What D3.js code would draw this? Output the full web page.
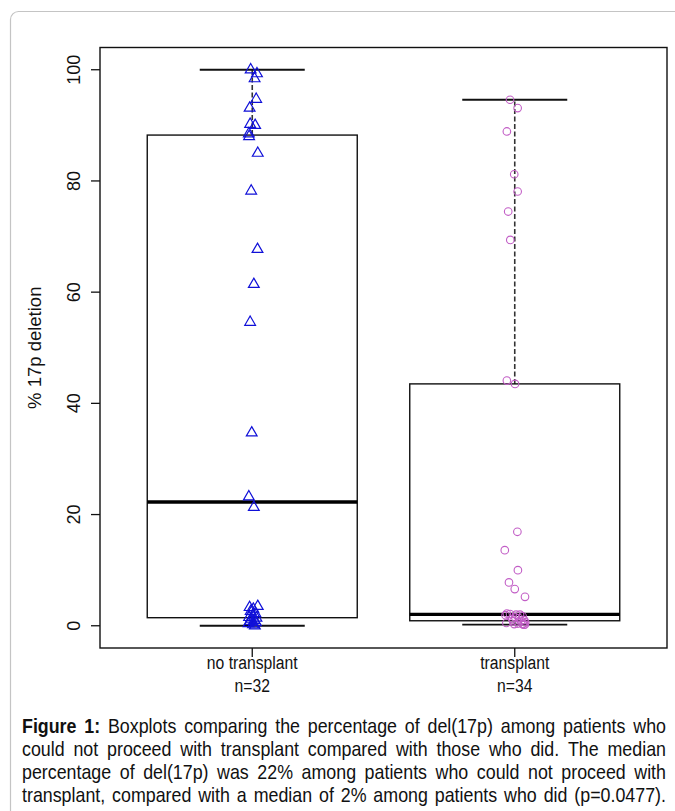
<!DOCTYPE html>
<html>
<head>
<meta charset="utf-8">
<script src="https://cdn.jsdelivr.net/npm/d3@7"></script>
<style>
  html, body { margin: 0; padding: 0; background: #fff; }
  svg { display: block; }
</style>
</head>
<body>
<div id="chart"></div>
<script>
// groupes
const groups = ["no transplant", "transplant"];
const groupN = ["n=32", "n=34"];

// % 17p deletion, sans greffe (32 patients)
const noTransplant = [100, 99.3, 98.4, 94.7, 93.1, 90.2, 90.0, 88.5, 88.0, 85.0,
  78.2, 67.7, 61.4, 54.6, 34.7, 23.2, 21.3,
  3.5, 3.3, 3.0, 2.6, 2.2, 1.8, 1.5, 1.4, 1.2, 1.0, 0.8, 0.6, 0.4, 0.2, 0.0];
// décalage (jitter) horizontal, en unités de catégorie
const noTransplantJitter = [-0.006, 0.018, 0.009, 0.015, -0.010, -0.008, 0.011, -0.013, -0.012, 0.021,
  -0.004, 0.020, 0.006, -0.008, -0.002, -0.013, 0.006,
  0.021, -0.010, 0.004, -0.006, 0.012, 0.002, -0.012, 0.016, -0.004, 0.008, -0.009, 0.014, -0.014, 0.003, 0.010];

// % 17p deletion, avec greffe (34 patients)
const transplant = [94.6, 93.1, 88.9, 81.2, 78.1, 74.5, 69.4, 44.1, 43.5,
  16.9, 13.6, 10.0, 7.8, 6.6, 5.2,
  2.2, 2.1, 2.0, 2.0, 1.9, 1.7, 1.5, 1.4, 1.2, 1.0, 0.9, 0.8, 0.6, 0.5, 0.4, 0.3, 0.3, 0.2, 0.2];
const transplantJitter = [-0.018, 0.011, -0.030, -0.002, 0.011, -0.025, -0.017, -0.030, 0.001,
  0.010, -0.038, 0.012, -0.022, 0.000, 0.039,
  -0.030, -0.018, 0.005, 0.020, -0.035, 0.030, 0.002, 0.016, -0.010, 0.036, 0.025, -0.005, 0.040, -0.032, 0.012, 0.030, -0.002, 0.034, 0.038];

const yTicks = [0, 20, 40, 60, 80, 100];

const captionLines = [
  "Figure 1: Boxplots comparing the percentage of del(17p) among patients who",
  "could not proceed with transplant compared with those who did.  The median",
  "percentage of del(17p) was 22% among patients who could not proceed with",
  "transplant, compared with a median of 2% among patients who did (p=0.0477)."
];

//---------------------------------------------------------------------------------------

// Création du canevas SVG

const width = 675;
const height = 811;
const plot = { left: 100, top: 47.5, right: 667, bottom: 648 };
const font = "'Liberation Sans', Arial, sans-serif";

const svg = d3.select("#chart")
  .append("svg")
  .attr("width", width)
  .attr("height", height)
  .attr("viewBox", [0, 0, width, height]);

// cadre arrondi gris autour de la figure
svg.append("rect")
  .attr("x", 10.5).attr("y", 11.5)
  .attr("width", 720).attr("height", 900)
  .attr("rx", 8)
  .attr("fill", "none")
  .attr("stroke", "#c4c4c4")
  .attr("stroke-width", 1.2);

//---------------------------------------------------------------------------------------

// Échelles (comme R : étendue + 4%)

const x = d3.scaleLinear()
  .domain([0.42, 2.58])
  .range([plot.left, plot.right]);

const y = d3.scaleLinear()
  .domain([-4, 104])
  .range([plot.bottom, plot.top]);

// statistiques boxplot (fivenum de R + moustaches 1.5 IQR)
function quantAt(sorted, pos) {
  const lo = Math.floor(pos), hi = Math.ceil(pos);
  return (sorted[lo - 1] + sorted[hi - 1]) / 2;
}
function boxStats(values) {
  const s = values.slice().sort(d3.ascending);
  const n = s.length;
  const n4 = Math.floor((n + 3) / 2) / 2;
  const q1 = quantAt(s, n4);
  const med = quantAt(s, (n + 1) / 2);
  const q3 = quantAt(s, n + 1 - n4);
  const iqr = q3 - q1;
  const lo = d3.min(s.filter(v => v >= q1 - 1.5 * iqr));
  const hi = d3.max(s.filter(v => v <= q3 + 1.5 * iqr));
  return { q1, med, q3, lo, hi };
}

const series = [
  { values: noTransplant, jitter: noTransplantJitter, shape: "triangle", color: "#1010d8" },
  { values: transplant, jitter: transplantJitter, shape: "circle", color: "#c25ec6" }
];

const boxW = 0.4;   // demi-largeur de boîte
const capW = 0.2;   // demi-largeur des moustaches

const gBox = svg.append("g");

series.forEach((s, i) => {
  const c = i + 1;
  const st = boxStats(s.values);

  // moustaches pointillées
  [[st.lo, st.q1], [st.q3, st.hi]].forEach(([a, b]) => {
    gBox.append("line")
      .attr("x1", x(c)).attr("x2", x(c))
      .attr("y1", y(a)).attr("y2", y(b))
      .attr("stroke", "#333")
      .attr("stroke-width", 1.6)
      .attr("stroke-dasharray", "5,2.5");
  });

  // extrémités des moustaches
  [st.lo, st.hi].forEach(v => {
    gBox.append("line")
      .attr("x1", x(c - capW)).attr("x2", x(c + capW))
      .attr("y1", y(v)).attr("y2", y(v))
      .attr("stroke", "#111")
      .attr("stroke-width", 1.8);
  });

  // boîte
  gBox.append("rect")
    .attr("x", x(c - boxW))
    .attr("y", y(st.q3))
    .attr("width", x(c + boxW) - x(c - boxW))
    .attr("height", y(st.q1) - y(st.q3))
    .attr("fill", "none")
    .attr("stroke", "#111")
    .attr("stroke-width", 1.4);

  // médiane
  gBox.append("line")
    .attr("x1", x(c - boxW)).attr("x2", x(c + boxW))
    .attr("y1", y(st.med)).attr("y2", y(st.med))
    .attr("stroke", "#000")
    .attr("stroke-width", 3.4);
});

// points individuels
const tri = d3.symbol(d3.symbolTriangle, 50);
series.forEach((s, i) => {
  const c = i + 1;
  const g = svg.append("g");
  const pts = s.values.map((v, k) => ({ v, j: s.jitter[k] }));
  if (s.shape === "triangle") {
    g.selectAll("path")
      .data(pts)
      .join("path")
      .attr("d", tri)
      .attr("transform", d => `translate(${x(c + d.j)},${y(d.v)})`)
      .attr("fill", "none")
      .attr("stroke", s.color)
      .attr("stroke-width", 1.2);
  } else {
    g.selectAll("circle")
      .data(pts)
      .join("circle")
      .attr("cx", d => x(c + d.j))
      .attr("cy", d => y(d.v))
      .attr("r", 3.8)
      .attr("fill", "none")
      .attr("stroke", s.color)
      .attr("stroke-width", 1.1);
  }
});

// cadre du graphique
svg.append("rect")
  .attr("x", plot.left).attr("y", plot.top)
  .attr("width", plot.right - plot.left)
  .attr("height", plot.bottom - plot.top)
  .attr("fill", "none")
  .attr("stroke", "#111")
  .attr("stroke-width", 1.4);

//---------------------------------------------------------------------------------------

// Axes

// axe Y
const yAxis = svg.append("g");
yAxis.selectAll("line")
  .data(yTicks)
  .join("line")
  .attr("x1", plot.left - 9).attr("x2", plot.left)
  .attr("y1", d => y(d)).attr("y2", d => y(d))
  .attr("stroke", "#111")
  .attr("stroke-width", 1.3);
yAxis.selectAll("text")
  .data(yTicks)
  .join("text")
  .attr("transform", d => `translate(80,${y(d)}) rotate(-90)`)
  .attr("text-anchor", "middle")
  .style("font-family", font)
  .style("font-size", "18px")
  .attr("fill", "#111")
  .text(d => d);

svg.append("text")
  .attr("transform", `translate(41,${(plot.top + plot.bottom) / 2}) rotate(-90)`)
  .attr("text-anchor", "middle")
  .style("font-family", font)
  .style("font-size", "18.5px")
  .attr("fill", "#111")
  .text("% 17p deletion");

// axe X (police étroite : mise à l'échelle horizontale)
const xAxis = svg.append("g");
groups.forEach((g, i) => {
  const c = i + 1;
  xAxis.append("line")
    .attr("x1", x(c)).attr("x2", x(c))
    .attr("y1", plot.bottom).attr("y2", plot.bottom + 9)
    .attr("stroke", "#111")
    .attr("stroke-width", 1.3);
  [g, groupN[i]].forEach((lbl, k) => {
    xAxis.append("text")
      .attr("transform", `translate(${x(c)},${669 + k * 23}) scale(0.85,1)`)
      .attr("text-anchor", "middle")
      .style("font-family", font)
      .style("font-size", "18.5px")
      .attr("fill", "#111")
      .text(lbl);
  });
});

//---------------------------------------------------------------------------------------

// Légende de la figure (texte justifié)

const capLeft = 22, capRight = 666, capTop = 733, capStep = 23, capSx = 0.915;
const capG = svg.append("g")
  .attr("transform", `scale(${capSx},1)`)
  .style("font-family", font)
  .style("font-size", "19.5px")
  .attr("fill", "#111");

captionLines.forEach((line, li) => {
  const words = line.split(/\s+/);
  const nodes = words.map((w, wi) => {
    const t = capG.append("text")
      .attr("y", capTop + li * capStep)
      .text(w);
    if (li === 0 && wi < 2) t.style("font-weight", "bold");
    return t;
  });
  const widths = nodes.map(t => t.node().getComputedTextLength());
  const avail = (capRight - capLeft) / capSx;
  const gap = (avail - d3.sum(widths)) / (words.length - 1);
  let cx = capLeft / capSx;
  nodes.forEach((t, k) => {
    t.attr("x", cx);
    cx += widths[k] + gap;
  });
});
</script>
</body>
</html>
